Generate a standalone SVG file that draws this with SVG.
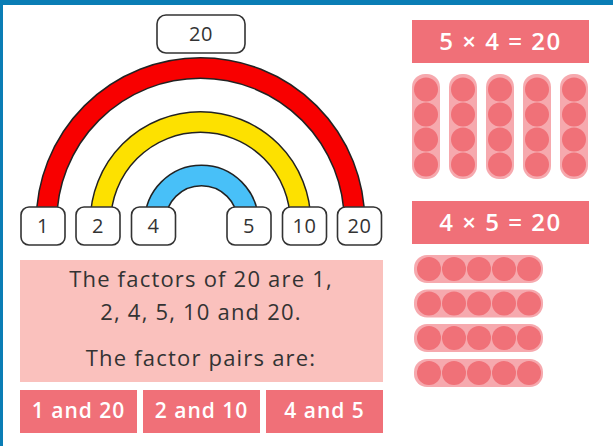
<svg xmlns="http://www.w3.org/2000/svg" width="613" height="446" viewBox="0 0 613 446">
<style>
.nb{fill:#fff;stroke:#333;stroke-width:1.6}
.nt{font-family:"Open Sans","Noto Sans",sans-serif;font-size:20px;fill:#333;text-anchor:middle;letter-spacing:0.5px}
.eq{fill:#f07078}
.et{font-family:"Open Sans","Noto Sans",sans-serif;font-size:24px;font-weight:600;fill:#fff;text-anchor:middle;letter-spacing:1.5px}
.pt{font-family:"Open Sans","Noto Sans",sans-serif;font-size:21px;font-weight:600;fill:#fff;text-anchor:middle;letter-spacing:1px}
.ft{font-family:"Open Sans","Noto Sans",sans-serif;font-size:22px;fill:#333;text-anchor:middle;letter-spacing:1.2px}
.bar{fill:#f6a9ae}
.dot{fill:#f07178}
.ol{fill:none;stroke:#222;stroke-width:22}
</style>
<defs>
<g id="vbar"><rect class="bar" x="0" y="0" width="28" height="105" rx="13"/><circle class="dot" cx="14" cy="15.5" r="12"/><circle class="dot" cx="14" cy="40.5" r="12"/><circle class="dot" cx="14" cy="65.5" r="12"/><circle class="dot" cx="14" cy="90.5" r="12"/></g>
<g id="hbar"><rect class="bar" x="0" y="0" width="129" height="28" rx="13"/><circle class="dot" cx="15" cy="14" r="12"/><circle class="dot" cx="40" cy="14" r="12"/><circle class="dot" cx="65" cy="14" r="12"/><circle class="dot" cx="90" cy="14" r="12"/><circle class="dot" cx="115" cy="14" r="12"/></g>
</defs>
<rect x="0" y="0" width="613" height="446" fill="#fff"/>
<rect x="0" y="0" width="613" height="5" fill="#0a7db5"/>
<rect x="0" y="0" width="3" height="446" fill="#0a7db5"/>
<g id="rainbow">
<path class="ol" d="M46.5,222 A154,154 0 0 1 354.5,222"/>
<path d="M46.5,222 A154,154 0 0 1 354.5,222" fill="none" stroke="#f80000" stroke-width="19"/>
<path class="ol" d="M100.5,222 A100,100 0 0 1 300.5,222"/>
<path d="M100.5,222 A100,100 0 0 1 300.5,222" fill="none" stroke="#fde100" stroke-width="19"/>
<path class="ol" d="M155,222 A46.5,46.5 0 0 1 248,222"/>
<path d="M155,222 A46.5,46.5 0 0 1 248,222" fill="none" stroke="#48c0f8" stroke-width="19"/>
</g>
<g id="n20top"><rect class="nb" x="157" y="15" width="88" height="38" rx="9"/><text class="nt" x="201" y="41">20</text></g>
<g id="n1"><rect class="nb" x="21" y="207" width="44" height="38" rx="8"/><text class="nt" x="43" y="233">1</text></g>
<g id="n2"><rect class="nb" x="76" y="207" width="44" height="38" rx="8"/><text class="nt" x="98" y="233">2</text></g>
<g id="n4"><rect class="nb" x="131.5" y="207" width="44" height="38" rx="8"/><text class="nt" x="153.5" y="233">4</text></g>
<g id="n5"><rect class="nb" x="227" y="207" width="44" height="38" rx="8"/><text class="nt" x="249" y="233">5</text></g>
<g id="n10"><rect class="nb" x="282.5" y="207" width="44" height="38" rx="8"/><text class="nt" x="304.5" y="233">10</text></g>
<g id="n20"><rect class="nb" x="337.5" y="207" width="44" height="38" rx="8"/><text class="nt" x="359.5" y="233">20</text></g>
<g id="factors">
<rect x="20" y="260" width="363" height="122" fill="#fac1bd"/>
<text class="ft" x="201" y="287">The factors of 20 are 1,</text>
<text class="ft" x="201" y="320">2, 4, 5, 10 and 20.</text>
<text class="ft" x="201" y="366">The factor pairs are:</text>
</g>
<g id="pair1"><rect class="eq" x="20" y="390" width="117" height="43"/><text class="pt" x="78.5" y="418">1 and 20</text></g>
<g id="pair2"><rect class="eq" x="143" y="390" width="117" height="43"/><text class="pt" x="201.5" y="418">2 and 10</text></g>
<g id="pair3"><rect class="eq" x="266" y="390" width="117" height="43"/><text class="pt" x="324.5" y="418">4 and 5</text></g>
<g id="eq1"><rect class="eq" x="412" y="20" width="177" height="43"/><text class="et" x="500.5" y="50">5 × 4 = 20</text></g>
<g id="cols">
<use href="#vbar" x="412" y="74"/>
<use href="#vbar" x="449" y="74"/>
<use href="#vbar" x="486" y="74"/>
<use href="#vbar" x="523" y="74"/>
<use href="#vbar" x="560" y="74"/>
</g>
<g id="eq2"><rect class="eq" x="412" y="201" width="177" height="43"/><text class="et" x="500.5" y="231">4 × 5 = 20</text></g>
<g id="rows">
<use href="#hbar" x="414" y="255"/>
<use href="#hbar" x="414" y="289.5"/>
<use href="#hbar" x="414" y="324"/>
<use href="#hbar" x="414" y="359"/>
</g>
</svg>
